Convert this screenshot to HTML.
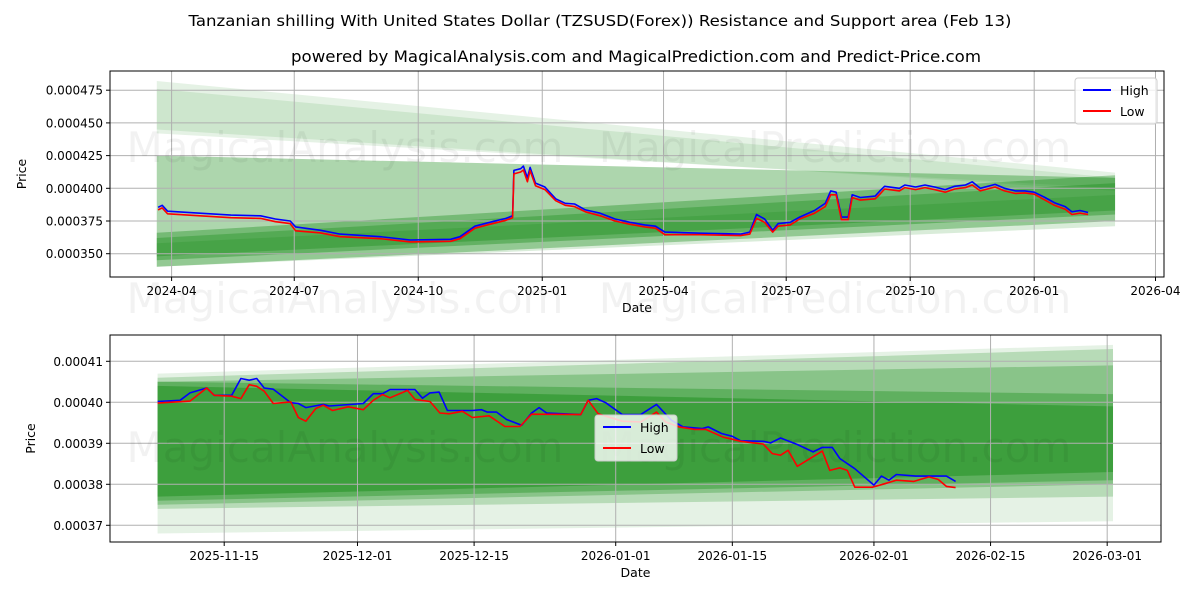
<!DOCTYPE html>
<html><head><meta charset="utf-8"><style>
html,body{margin:0;padding:0;background:#fff;}
svg{display:block;font-family:"DejaVu Sans","Liberation Sans",sans-serif;}
</style></head><body>
<svg id="chart" width="1200" height="600" viewBox="0 0 1200 600" xmlns="http://www.w3.org/2000/svg">
<rect width="1200" height="600" fill="#fff"/>
<text x="600" y="26" font-size="15" text-anchor="middle" textLength="823" lengthAdjust="spacingAndGlyphs">Tanzanian shilling With United States Dollar (TZSUSD(Forex)) Resistance and Support area (Feb 13)</text>
<text x="636" y="62" font-size="16" text-anchor="middle" textLength="690" lengthAdjust="spacingAndGlyphs">powered by MagicalAnalysis.com and MagicalPrediction.com and Predict-Price.com</text>
<g id="top"></g>
<g id="bot"></g>
</svg>
<script>
// ---------- TOP CHART DATA (days from 2024-04-01) ----------
const topDays = [-10,-7,-3,21,44,66,77,88,92,110,125,155,177,207,214,225,236,248,253,254,259,261,264,266,270,277,285,292,299,307,318,329,340,351,359,366,392,422,429,434,440,446,450,459,466,477,485,489,493,497,502,505,511,522,526,529,540,544,552,559,566,574,581,589,594,600,611,618,626,633,640,648,655,663,668,674,680];
const topHigh = [0.0003855,0.000387,0.0003825,0.000381,0.0003795,0.000379,0.0003765,0.000375,0.0003705,0.000368,0.000365,0.000363,0.0003605,0.000361,0.000363,0.000371,0.000374,0.000377,0.000379,0.0004137,0.000415,0.000417,0.000408,0.000416,0.000404,0.000401,0.000392,0.0003885,0.000388,0.0003835,0.000381,0.0003765,0.000374,0.000372,0.000371,0.0003665,0.0003657,0.000365,0.0003665,0.000380,0.0003765,0.000368,0.000373,0.000374,0.000378,0.000383,0.0003885,0.000398,0.000397,0.000378,0.000378,0.000395,0.000393,0.000394,0.0003985,0.0004015,0.0004,0.0004025,0.000401,0.0004025,0.000401,0.000399,0.0004015,0.0004025,0.000405,0.000400,0.000403,0.000400,0.000398,0.000398,0.000397,0.000393,0.000389,0.000386,0.000382,0.000383,0.0003815];
const topLow  = [0.0003835,0.000385,0.0003805,0.000379,0.0003775,0.000377,0.0003745,0.000373,0.0003675,0.000366,0.000363,0.0003615,0.000359,0.0003595,0.0003615,0.0003695,0.0003725,0.0003755,0.0003775,0.000411,0.0004125,0.000414,0.000405,0.0004135,0.000402,0.000399,0.0003905,0.000387,0.000386,0.000382,0.000379,0.000375,0.0003725,0.0003705,0.0003695,0.0003645,0.0003645,0.0003638,0.000365,0.000377,0.000374,0.0003665,0.000371,0.000372,0.0003765,0.000381,0.000386,0.000395,0.000395,0.000376,0.000376,0.000393,0.000391,0.000392,0.000396,0.0003995,0.000398,0.0004005,0.000399,0.0004005,0.000399,0.000397,0.0003995,0.0004005,0.0004025,0.000398,0.000401,0.000398,0.000396,0.0003965,0.0003955,0.000391,0.000387,0.000384,0.000380,0.000381,0.000380];
const topTickLabels = ["2024-04","2024-07","2024-10","2025-01","2025-04","2025-07","2025-10","2026-01","2026-04"];
const topTickDays = [0,91,183,275,365,456,548,640,730];
const topYTicks = [0.00035,0.000375,0.0004,0.000425,0.00045,0.000475];
const topYLabels = ["0.000350","0.000375","0.000400","0.000425","0.000450","0.000475"];
const topBandStartTop = [0.000482,0.000476,0.000425,0.000358,0.000366,0.000362];
const topBandStartBot = [0.000442,0.000445,0.000340,0.000340,0.000345,0.000348];
const topBandEndTop   = [0.000412,0.000408,0.000408,0.000395,0.000410,0.000404];
const topBandEndBot   = [0.000400,0.000398,0.000375,0.000371,0.000380,0.000383];
const topBandAlpha    = [0.1,0.1,0.32,0.15,0.32,0.28];
const topBandStartDay = -11, topBandEndDay = 700;

// ---------- BOTTOM CHART DATA (days from 2025-11-15) ----------
const botHighDays = [-8,-5.3,-4.1,-2.1,-1.2,0.9,2,3,3.9,4.8,5.9,8,8.9,9.8,11.9,12.6,16.7,17.9,19,19.9,22.9,23.8,24.7,25.8,26.8,29.8,30.9,31.6,32.7,33.9,35.7,36.9,37.8,38.7,42.8,43.7,44.7,45.8,47.8,50,51.9,53.7,55.1,57.4,58.1,59.7,61,62,64.7,65.6,66.8,68.8,70.7,71.8,73,73.9,75.7,78,78.9,79.8,80.7,83,86.7,87.8];
const botHigh = [400.2,400.5,402.3,403.5,401.7,401.7,405.8,405.4,405.8,403.5,403.2,399.9,399.7,398.7,399.5,399.1,399.7,402.1,402.1,403.1,403.1,401.0,402.3,402.5,398.0,398.0,398.2,397.6,397.6,395.8,394.4,397.4,398.7,397.4,397.0,400.5,400.9,399.9,397.0,397.0,399.5,395.6,394.0,393.6,394.0,392.4,391.7,390.6,390.5,390.1,391.3,389.7,387.9,389.0,389.0,386.3,383.8,379.8,382.0,381.0,382.4,382.0,382.0,380.7];
const botLowDays = [-8,-4.1,-2.1,-1.2,0.9,2,3,3.9,4.8,5.9,8,8.9,9.8,11,11.9,13,14.9,16.7,17.9,19,19.9,22,22.9,24.7,25.9,27,28.6,29.8,31.8,33.7,35.5,36.9,42.8,43.7,44.9,47.8,50,51.9,53,54.6,56.5,57.8,59.9,60.8,62,64.7,65.8,66.8,67.7,68.8,71.8,72.7,73.9,74.8,75.7,77.8,78.9,80.7,82.8,84.6,85.7,86.7,87.8];
const botLow = [399.8,400.3,403.5,401.7,401.5,400.9,404.3,403.9,402.7,399.7,400.1,396.3,395.4,398.5,399.3,398.0,398.9,398.2,400.5,401.9,401.1,402.9,400.7,400.2,397.4,397.2,397.8,396.3,396.7,394.1,394.1,397.1,397.0,400.5,397.2,395.4,395.2,397.6,395.2,394.0,393.4,393.4,391.5,391.1,390.5,389.8,387.5,387.1,388.3,384.4,388.1,383.4,384.0,383.4,379.3,379.3,379.9,381.0,380.7,381.8,381.2,379.5,379.2];
const botTickLabels = ["2025-11-15","2025-12-01","2025-12-15","2026-01-01","2026-01-15","2026-02-01","2026-02-15","2026-03-01"];
const botTickDays = [0,16,30,47,61,78,92,106];
const botYTicks = [0.00037,0.00038,0.00039,0.0004,0.00041];
const botYLabels = ["0.00037","0.00038","0.00039","0.00040","0.00041"];
const botBandStartTop = [0.000407,0.000406,0.000405,0.000405,0.000404];
const botBandStartBot = [0.000368,0.000374,0.000375,0.000376,0.000377];
const botBandEndTop   = [0.000414,0.000413,0.000409,0.000402,0.000399];
const botBandEndBot   = [0.000371,0.000377,0.000380,0.000381,0.000383];
const botBandAlpha    = [0.1,0.2,0.25,0.3,0.35];
const botBandStartDay = -8, botBandEndDay = 106.7;

const NS = "http://www.w3.org/2000/svg";
function mk(parent, tag, attrs, name, text) {
  const el = document.createElementNS(NS, tag);
  for (const k in attrs) el.setAttribute(k, attrs[k]);
  
  
  if (text !== undefined) el.textContent = text;
  parent.appendChild(el);
  return el;
}

function panel(g, cfg) {
  const xs = d => cfg.x0 + (d - cfg.d0) * cfg.pxPerDay;
  const ys = v => cfg.yRef - (v - cfg.vRef) * cfg.pxPerUnit;
  for (let i = 0; i < cfg.bST.length; i++) {
    const xa = xs(cfg.bandStart), xb = xs(cfg.bandEnd);
    const pts = [[xa, ys(cfg.bST[i])], [xb, ys(cfg.bET[i])], [xb, ys(cfg.bEB[i])], [xa, ys(cfg.bSB[i])]];
    mk(g, 'polygon', {points: pts.map(p => p.join(',')).join(' '), fill: '#008000', 'fill-opacity': cfg.bA[i]}, 'band');
  }
  cfg.xt.forEach((d, i) => {
    const x = xs(d);
    mk(g, 'line', {x1: x, x2: x, y1: cfg.top, y2: cfg.bottom, stroke: '#b0b0b0', 'stroke-width': 1}, 'x-gridline');
    mk(g, 'line', {x1: x, x2: x, y1: cfg.bottom, y2: cfg.bottom + 4, stroke: '#000', 'stroke-width': 1}, 'x-tick');
    mk(g, 'text', {x: x, y: cfg.bottom + 18, 'font-size': 12, 'text-anchor': 'middle'}, 'x-tick-label', cfg.xl[i]);
  });
  cfg.yt.forEach((v, i) => {
    const y = ys(v);
    mk(g, 'line', {x1: cfg.left, x2: cfg.right, y1: y, y2: y, stroke: '#b0b0b0', 'stroke-width': 1}, 'y-gridline');
    mk(g, 'line', {x1: cfg.left - 4, x2: cfg.left, y1: y, y2: y, stroke: '#000', 'stroke-width': 1}, 'y-tick');
    mk(g, 'text', {x: cfg.left - 7, y: y + 4.5, 'font-size': 12, 'text-anchor': 'end'}, 'y-tick-label', cfg.yl[i]);
  });
  cfg.wm.forEach(w => {
    mk(g, 'text', {x: w[0], y: w[1], 'font-size': 42, 'text-anchor': 'middle', fill: '#000', 'fill-opacity': 0.05}, 'watermark', w[2]);
  });
  const line = (days, vals, color, name) => {
    const d = days.map((dd, i) => (i ? 'L' : 'M') + xs(dd).toFixed(1) + ',' + ys(vals[i]).toFixed(1)).join(' ');
    mk(g, 'path', {d: d, fill: 'none', stroke: color, 'stroke-width': 1.6, 'stroke-linejoin': 'round'}, name);
  };
  line(cfg.hd, cfg.hv, '#0000ff', 'high-line');
  line(cfg.ld, cfg.lv, '#ff0000', 'low-line');
  mk(g, 'rect', {x: cfg.left, y: cfg.top, width: cfg.right - cfg.left, height: cfg.bottom - cfg.top, fill: 'none', stroke: '#000', 'stroke-width': 1}, 'plot-frame');
  mk(g, 'text', {x: (cfg.left + cfg.right) / 2, y: cfg.bottom + 35, 'font-size': 12.5, 'text-anchor': 'middle'}, 'x-axis-title', 'Date');
  mk(g, 'text', {x: 0, y: 0, 'font-size': 12.5, 'text-anchor': 'middle', transform: `translate(${cfg.yTitleX},${(cfg.top + cfg.bottom) / 2}) rotate(-90)`}, 'y-axis-title', 'Price');
  const L = cfg.leg;
  mk(g, 'rect', {x: L[0], y: L[1], width: 82, height: 46, rx: 3, fill: '#fff', 'fill-opacity': 0.8, stroke: '#ccc'}, 'legend');
  mk(g, 'line', {x1: L[0] + 8, x2: L[0] + 36, y1: L[1] + 12, y2: L[1] + 12, stroke: '#0000ff', 'stroke-width': 2}, 'legend-high-swatch');
  mk(g, 'text', {x: L[0] + 45, y: L[1] + 17, 'font-size': 12.5}, 'legend-high-label', 'High');
  mk(g, 'line', {x1: L[0] + 8, x2: L[0] + 36, y1: L[1] + 33, y2: L[1] + 33, stroke: '#ff0000', 'stroke-width': 2}, 'legend-low-swatch');
  mk(g, 'text', {x: L[0] + 45, y: L[1] + 38, 'font-size': 12.5}, 'legend-low-label', 'Low');
}

const scaleB = v => v * 1e-6;
panel(document.getElementById('top'), {
  left: 110, right: 1164, top: 71, bottom: 277, x0: 171.6, d0: 0, pxPerDay: 1.3478,
  vRef: 0.0004, yRef: 188.3, pxPerUnit: 32.7 / 0.000025,
  bST: topBandStartTop, bSB: topBandStartBot, bET: topBandEndTop, bEB: topBandEndBot, bA: topBandAlpha,
  bandStart: topBandStartDay, bandEnd: topBandEndDay,
  xt: topTickDays, xl: topTickLabels, yt: topYTicks, yl: topYLabels,
  hd: topDays, hv: topHigh, ld: topDays, lv: topLow,
  wm: [[345, 162, 'MagicalAnalysis.com'], [835, 162, 'MagicalPrediction.com'], [345, 313, 'MagicalAnalysis.com'], [835, 313, 'MagicalPrediction.com']],
  leg: [1075, 78], yTitleX: 26
});
panel(document.getElementById('bot'), {
  left: 110, right: 1161, top: 335, bottom: 542, x0: 224.2, d0: 0, pxPerDay: 8.33,
  vRef: 0.0004, yRef: 402.3, pxPerUnit: 41 / 0.00001,
  bST: botBandStartTop, bSB: botBandStartBot, bET: botBandEndTop, bEB: botBandEndBot, bA: botBandAlpha,
  bandStart: botBandStartDay, bandEnd: botBandEndDay,
  xt: botTickDays, xl: botTickLabels, yt: botYTicks, yl: botYLabels,
  hd: botHighDays, hv: botHigh.map(scaleB), ld: botLowDays, lv: botLow.map(scaleB),
  wm: [[345, 462, 'MagicalAnalysis.com'], [835, 462, 'MagicalPrediction.com']],
  leg: [595, 415], yTitleX: 35
});
</script>
</body></html>
